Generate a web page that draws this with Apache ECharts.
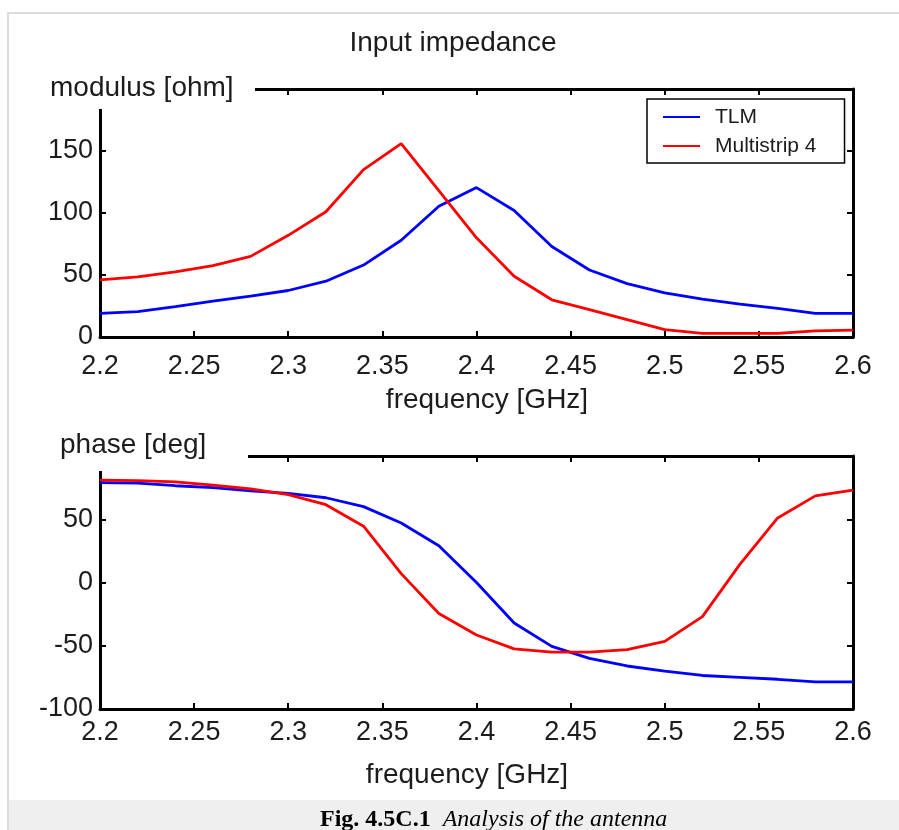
<!DOCTYPE html>
<html>
<head>
<meta charset="utf-8">
<title>Input impedance</title>
<script src="https://cdn.jsdelivr.net/npm/echarts@6.0.0/dist/echarts.min.js"></script>
<style>
  html, body { margin: 0; padding: 0; background: #fff; }
  #main { width: 899px; height: 830px; }
</style>
</head>
<body>
<div id="main"></div>
<script>
// frequency points [GHz]
var freq = [2.20, 2.22, 2.24, 2.26, 2.28, 2.30, 2.32, 2.34, 2.36, 2.38, 2.40,
            2.42, 2.44, 2.46, 2.48, 2.50, 2.52, 2.54, 2.56, 2.58, 2.60];

// modulus [ohm]
var modTLM   = [19, 20.5, 24.5, 29, 33, 37.5, 45, 58, 78, 105.5, 120.5,
                102, 73, 54, 43, 35.5, 30.5, 26.5, 23, 19, 19];
var modMulti = [46, 48.5, 52.5, 57.5, 65, 82, 101, 135, 156, 118, 80,
                49, 30, 22, 14, 6, 3, 3, 3, 5, 5.5];

// phase [deg]
var phaseTLM   = [79, 78.5, 76.5, 75, 72.5, 70.5, 67, 60, 47, 29, 0,
                  -32, -50.5, -60, -66, -70, -73.5, -75, -76.5, -78.5, -78.5];
var phaseMulti = [81, 80.5, 79.5, 77, 74, 69.5, 61.5, 44.5, 7, -24.5, -41.5,
                  -52.5, -55, -55, -53, -46.5, -27, 14.5, 51, 68.5, 73];

var xTicks = { min: 2.2, max: 2.6, interval: 0.05 };
var modTicks = { min: 0, max: 200, interval: 50 };
var phaseTicks = { min: -100, max: 100, interval: 50 };

var seriesNames = ['TLM', 'Multistrip 4'];
var seriesColors = ['#0000ff', '#ff0000'];

function pairs(ys) {
	var out = [];
	for (var i = 0; i < freq.length; i++) out.push([freq[i], ys[i]]);
	return out;
}

var FONT = 'Liberation Sans, Arial, Helvetica, sans-serif';
var TXT = '#1c1c1c';

function xAxisFor(grid, pos, showLabel, margin) {
	return {
		type: 'value', gridIndex: grid, position: pos,
		min: xTicks.min, max: xTicks.max, interval: xTicks.interval,
		axisLine: { show: true, onZero: false, lineStyle: { color: '#000', width: 3 } },
		axisTick: { show: true, inside: true, length: 6, lineStyle: { color: '#000', width: 2 } },
		axisLabel: {
			show: showLabel, margin: margin, color: TXT, fontSize: 27, fontFamily: FONT,
			formatter: function (v) { return String(+v.toFixed(2)); }
		},
		splitLine: { show: false }
	};
}

function yAxisFor(grid, pos, ticks, showLabel) {
	return {
		type: 'value', gridIndex: grid, position: pos,
		min: ticks.min, max: ticks.max, interval: ticks.interval,
		axisLine: { show: true, onZero: false, lineStyle: { color: '#000', width: 3 } },
		axisTick: { show: true, inside: true, length: 6, lineStyle: { color: '#000', width: 2 } },
		axisLabel: {
			show: showLabel, margin: 7, color: TXT, fontSize: 27, fontFamily: FONT,
			showMaxLabel: false, padding: [6, 0, 0, 0]
		},
		splitLine: { show: false }
	};
}

function lineSeries(name, color, xi, yi, ys) {
	return {
		name: name, type: 'line', xAxisIndex: xi, yAxisIndex: yi,
		data: pairs(ys), showSymbol: false, symbol: 'none',
		lineStyle: { color: color, width: 2.8 }, itemStyle: { color: color },
		z: 3
	};
}

function label(text, x, y, align, size) {
	return {
		type: 'text', x: x, y: y, z: 110,
		style: { text: text, fill: TXT, font: (size || 28) + 'px ' + FONT, align: align || 'left', verticalAlign: 'middle' }
	};
}

var chart = echarts.init(document.getElementById('main'), null, { renderer: 'canvas' });

var option = {
	animation: false,
	backgroundColor: '#fff',
	grid: [
		{ left: 100, top: 89, width: 753, height: 248 },
		{ left: 100, top: 456, width: 753, height: 253 }
	],
	xAxis: [
		xAxisFor(0, 'bottom', true, 16),
		xAxisFor(0, 'top', false, 0),
		xAxisFor(1, 'bottom', true, 10),
		xAxisFor(1, 'top', false, 0)
	],
	yAxis: [
		yAxisFor(0, 'left', modTicks, true),
		yAxisFor(0, 'right', modTicks, false),
		yAxisFor(1, 'left', phaseTicks, true),
		yAxisFor(1, 'right', phaseTicks, false)
	],
	legend: {
		data: seriesNames,
		orient: 'vertical',
		left: 647, top: 99,
		padding: [7, 28, 6, 16],
		itemGap: 7,
		itemWidth: 37, itemHeight: 2,
		icon: 'rect',
		backgroundColor: '#fff',
		borderColor: '#000', borderWidth: 1.5,
		textStyle: { color: TXT, fontSize: 21, fontFamily: FONT, lineHeight: 22, padding: [0, 0, 0, 10] },
		z: 20
	},
	series: [
		lineSeries(seriesNames[0], seriesColors[0], 0, 0, modTLM),
		lineSeries(seriesNames[1], seriesColors[1], 0, 0, modMulti),
		lineSeries(seriesNames[0], seriesColors[0], 2, 2, phaseTLM),
		lineSeries(seriesNames[1], seriesColors[1], 2, 2, phaseMulti)
	],
	graphic: [
		// page frame and caption band
		{ type: 'rect', z: 1, shape: { x: 8, y: 13, width: 900, height: 830 }, style: { fill: 'none', stroke: '#dcdcdc', lineWidth: 2 } },
		{ type: 'rect', z: 1, shape: { x: 9, y: 800, width: 890, height: 30 }, style: { fill: '#efefef' } },
		// labels sitting over the top-left corners of the boxes
		{ type: 'rect', z: 105, shape: { x: 95, y: 78, width: 160, height: 31 }, style: { fill: '#fff' } },
		{ type: 'rect', z: 105, shape: { x: 95, y: 446, width: 153, height: 25 }, style: { fill: '#fff' } },
		label('Input impedance', 453, 43, 'center'),
		label('modulus [ohm]', 50, 88, 'left'),
		label('phase [deg]', 60, 445, 'left'),
		label('frequency [GHz]', 487, 400, 'center'),
		label('frequency [GHz]', 467, 775, 'center'),
		{
			type: 'text', x: 320, y: 820, z: 110,
			style: {
				text: '{b|Fig. 4.5C.1}{s| }{i|Analysis of the antenna}',
				verticalAlign: 'middle', align: 'left',
				rich: {
					b: { fontFamily: 'Liberation Serif, Times New Roman, serif', fontWeight: 'bold', fontSize: 24, fill: '#000' },
					s: { fontSize: 24, width: 12 },
					i: { fontFamily: 'Liberation Serif, Times New Roman, serif', fontStyle: 'italic', fontSize: 24, fill: '#000' }
				}
			}
		}
	]
};

chart.setOption(option);
</script>
</body>
</html>
